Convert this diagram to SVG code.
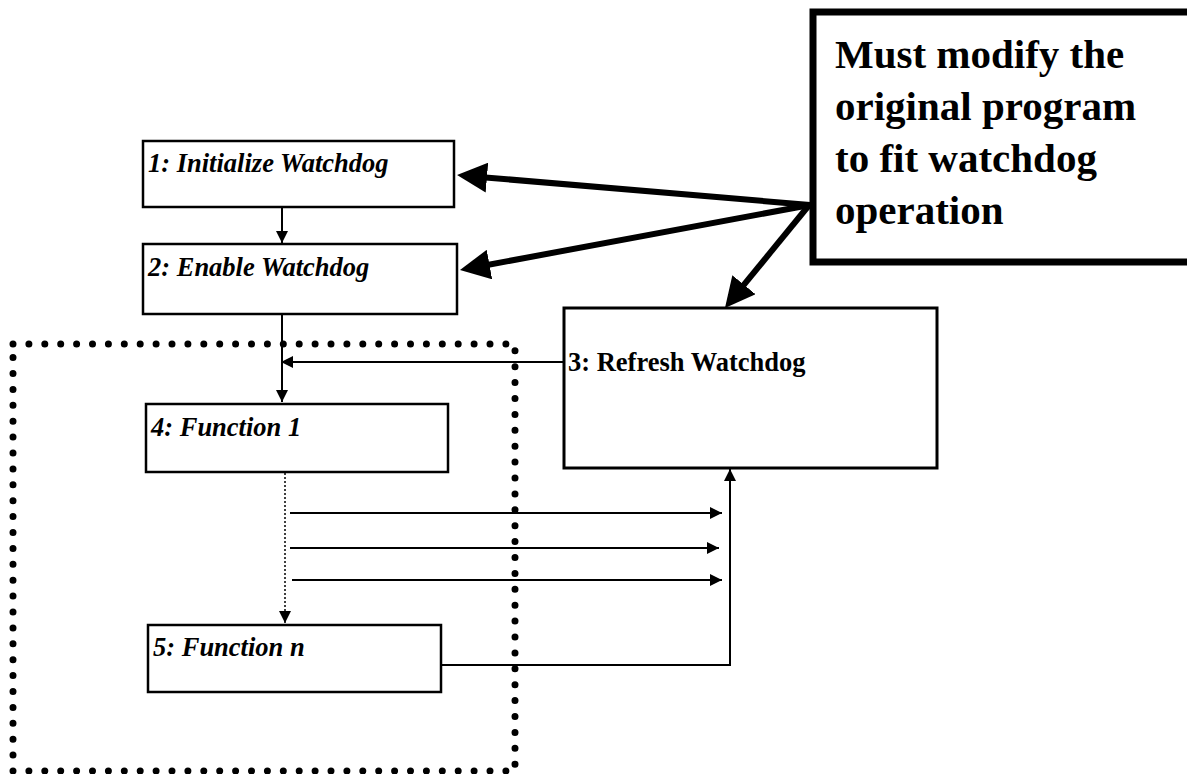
<svg xmlns="http://www.w3.org/2000/svg" width="1187" height="774" viewBox="0 0 1187 774">
<style>
.box{fill:#fff;stroke:#000;stroke-width:2.5}
.lbl{font-family:"Liberation Serif","Times New Roman",serif;font-size:26.5px;font-weight:bold;fill:#000}
.it{font-style:italic}
.big{font-family:"Liberation Serif","Times New Roman",serif;font-size:41px;font-weight:bold;fill:#000}
.thin{fill:none;stroke:#000;stroke-width:2}
.thick{fill:none;stroke:#000;stroke-width:6}
</style>
<defs>
<marker id="ah" markerUnits="userSpaceOnUse" markerWidth="12" markerHeight="12" refX="12" refY="6" orient="auto">
<path d="M0,0 L12,6 L0,12 z" fill="#000"/>
</marker>
<marker id="big" markerUnits="userSpaceOnUse" markerWidth="30" markerHeight="30" refX="20" refY="15" orient="auto">
<path d="M0,0 L30,15 L0,30 z" fill="#000"/>
</marker>
</defs>
<rect width="1187" height="774" fill="#fff"/>
<path id="group-boundary" d="M13,344 H515 V771 H13 Z" fill="none" stroke="#000" stroke-width="7" stroke-linecap="round" stroke-dasharray="0 15.9"/>
<g id="n1"><rect class="box" x="143" y="141" width="311" height="66"/><text class="lbl it" x="148" y="172">1: Initialize Watchdog</text></g>
<g id="n2"><rect class="box" x="143" y="244" width="314" height="70"/><text class="lbl it" x="148" y="276">2: Enable Watchdog</text></g>
<g id="n3"><rect class="box" x="564" y="308" width="373" height="160" style="stroke-width:3"/><text class="lbl" x="568" y="371">3: Refresh Watchdog</text></g>
<g id="n4"><rect class="box" x="146" y="404" width="302" height="68"/><text class="lbl it" x="151" y="436">4: Function 1</text></g>
<g id="n5"><rect class="box" x="148" y="625" width="293" height="67"/><text class="lbl it" x="153" y="656">5: Function n</text></g>
<g id="note"><rect x="813" y="12" width="390" height="250" fill="#fff" stroke="#000" stroke-width="7"/>
<text class="big"><tspan x="835" y="68">Must modify the</tspan><tspan x="835" y="120">original program</tspan><tspan x="835" y="172">to fit watchdog</tspan><tspan x="835" y="224">operation</tspan></text></g>
<g id="connectors">
<line class="thin" x1="282" y1="208" x2="282" y2="243" marker-end="url(#ah)"/>
<line class="thin" x1="282" y1="315" x2="282" y2="402" marker-end="url(#ah)"/>
<line class="thin" x1="564" y1="362" x2="281" y2="362" marker-end="url(#ah)"/>
<line x1="285" y1="473" x2="285" y2="623" fill="none" stroke="#000" stroke-width="1.5" stroke-dasharray="2 2" marker-end="url(#ah)"/>
<line class="thin" x1="290" y1="513" x2="722" y2="513" marker-end="url(#ah)"/>
<line class="thin" x1="290" y1="548" x2="719" y2="548" marker-end="url(#ah)"/>
<line class="thin" x1="292" y1="580" x2="722" y2="580" marker-end="url(#ah)"/>
<polyline class="thin" points="441,665 730,665 730,469" marker-end="url(#ah)"/>
<line class="thick" x1="810" y1="205" x2="467" y2="175.9" marker-end="url(#big)"/>
<line class="thick" x1="810" y1="205" x2="469.8" y2="268.2" marker-end="url(#big)"/>
<line class="thick" x1="810" y1="204" x2="731.3" y2="300.2" marker-end="url(#big)"/>
</g>
</svg>
